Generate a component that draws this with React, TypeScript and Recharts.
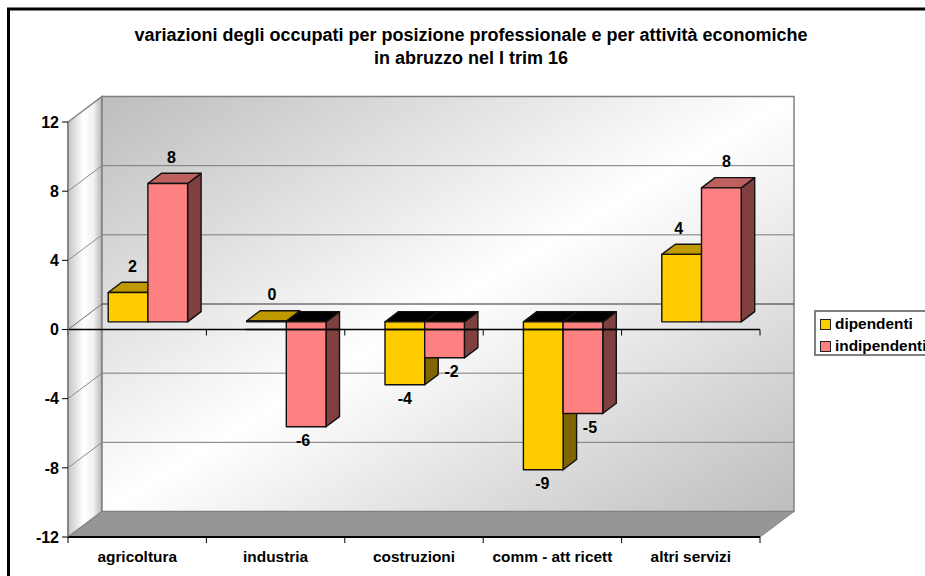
import React from 'react';
import { BarChart, Bar, XAxis, YAxis, Legend, LabelList, ReferenceLine } from 'recharts';

const categories = ['agricoltura', 'industria', 'costruzioni', 'comm - att ricett', 'altri servizi'];
const dipendenti = [1.7, 0.05, -3.64, -8.55, 3.9];
const indipendenti = [8.0, -6.07, -2.08, -5.3, 7.75];
const yTicks = [-12, -8, -4, 0, 4, 8, 12];
const titleLines = ['variazioni degli occupati per posizione professionale e per attività economiche', 'in abruzzo nel I trim 16'];
const seriesNames = ['dipendenti', 'indipendenti'];
const dipLabelNudge = [4.5, 5.5, 0, -1, -3];
const indLabelNudge = [3.7, -3, 7, 7, 5];

const data = categories.map((name, i) => ({ name, dipendenti: dipendenti[i], indipendenti: indipendenti[i] }));

const FONT = '"Liberation Sans", Arial, sans-serif';
const W = 925, H = 576;
const PL = 68, PR = 760, PT = 122, PB = 537;
const DX = 34, DY = 25.5;
const BAR_SHIFT_X = 10.2, BAR_SHIFT_Y = 7.65, BAR_DEPTH_X = 13.5, BAR_DEPTH_Y = 10.2;
const BAR_W = 39.7;
const LEGEND_W = 120;
const yOf = (v: number) => PT + ((12 - v) / 24) * (PB - PT);
const bandW = (PR - PL) / categories.length;

const Bar3D = (colors: { front: string; top: string; side: string }, axisOverBars = false) => (props: any) => {
  const { x, y, width, height } = props;
  const left = x + BAR_SHIFT_X;
  const right = left + width;
  const rawTop = Math.min(y, y + height);
  const top = rawTop - BAR_SHIFT_Y;
  const bottom = Math.max(y, y + height) - BAR_SHIFT_Y;
  const value = props.value;
  const v = Array.isArray(value) ? value[1] : value;
  const topColor = v < 0 ? '#000000' : colors.top;
  const dx = BAR_DEPTH_X, dy = BAR_DEPTH_Y;
  const common = { stroke: '#111', strokeWidth: 1.4, strokeLinejoin: 'round' as const };
  return (
    <g>
      <polygon points={`${right},${top} ${right + dx},${top - dy} ${right + dx},${bottom - dy} ${right},${bottom}`} fill={colors.side} {...common} />
      <polygon points={`${left},${top} ${left + dx},${top - dy} ${right + dx},${top - dy} ${right},${top}`} fill={topColor} {...common} />
      <rect x={left} y={top} width={width} height={bottom - top} fill={colors.front} {...common} />
      {axisOverBars && v < 0 && (
        <line x1={left - width - 1} y1={rawTop} x2={right + dx + 1} y2={rawTop} stroke="#000" strokeWidth={1.5} />
      )}
    </g>
  );
};

const makeLabel = (nudges: number[]) => (props: any) => {
  const { x, y, width, height, value, index } = props;
  const v = Number(value);
  const top = Math.min(y, y + height) - BAR_SHIFT_Y;
  const bottom = Math.max(y, y + height) - BAR_SHIFT_Y;
  const cx = x + BAR_SHIFT_X + width / 2 + nudges[index];
  const cy = v < 0 ? bottom + 14 : top - 26;
  return (
    <text x={cx} y={cy} textAnchor="middle" dominantBaseline="central" fontFamily={FONT} fontWeight="bold" fontSize={16} fill="#000">
      {Math.round(v)}
    </text>
  );
};

const Walls = () => (
  <g>
    <defs>
      <linearGradient id="backWall" x1="0" y1="0" x2="1" y2="1">
        <stop offset="0" stopColor="#bdbdbd" />
        <stop offset="0.5" stopColor="#ffffff" />
        <stop offset="1" stopColor="#bdbdbd" />
      </linearGradient>
      <linearGradient id="sideWall" x1="0" y1="0" x2="1" y2="0">
        <stop offset="0" stopColor="#c4c4c4" />
        <stop offset="0.45" stopColor="#ffffff" />
        <stop offset="0.75" stopColor="#f2f2f2" />
        <stop offset="1" stopColor="#b4b4b4" />
      </linearGradient>
    </defs>
    <polygon points={`${PL},${PT} ${PL + DX},${PT - DY} ${PL + DX},${PB - DY} ${PL},${PB}`} fill="url(#sideWall)" stroke="#808080" strokeWidth={1.5} />
    <rect x={PL + DX} y={PT - DY} width={PR - PL} height={PB - PT} fill="url(#backWall)" stroke="#808080" strokeWidth={1.5} />
    <polygon points={`${PL},${PB} ${PL + DX},${PB - DY} ${PR + DX},${PB - DY} ${PR},${PB}`} fill="#969696" stroke="#808080" strokeWidth={1} />
    {yTicks.filter((t) => t > -12 && t < 12).map((t) => (
      <g key={t}>
        <line x1={PL} y1={yOf(t)} x2={PL + DX} y2={yOf(t) - DY} stroke={t === 0 ? '#707070' : '#8a8a8a'} strokeWidth={1} />
        <line x1={PL + DX} y1={yOf(t) - DY} x2={PR + DX} y2={yOf(t) - DY} stroke={t === 0 ? '#303030' : '#7a7a7a'} strokeWidth={1} />
      </g>
    ))}
  </g>
);

const Frame = () => (
  <g>
    <path d={`M8.5,${H + 5} V9 H${W + 5}`} fill="none" stroke="#000" strokeWidth={3} />
    <text textAnchor="middle" fontFamily={FONT} fontWeight="bold" fontSize={18} fill="#000">
      <tspan x={471} y={41}>{titleLines[0]}</tspan>
      <tspan x={471} y={64}>{titleLines[1]}</tspan>
    </text>
  </g>
);

const Overlay = () => (
  <g>
    {categories.map((_, i) => i).concat(categories.length).map((i) => (
      <g key={i}>
        <line x1={PL + i * bandW} y1={yOf(0)} x2={PL + i * bandW} y2={yOf(0) + 6} stroke="#000" strokeWidth={1} />
        <line x1={PL + i * bandW} y1={PB} x2={PL + i * bandW} y2={PB + 6} stroke="#000" strokeWidth={1} />
      </g>
    ))}
  </g>
);

const LegendBox = () => (
  <div style={{ width: LEGEND_W - 4, height: 42, border: '2px solid #808080', background: '#fff', boxSizing: 'content-box', fontFamily: FONT, fontWeight: 'bold', fontSize: 15.4, color: '#000', position: 'relative' }}>
    {seriesNames.map((n, i) => (
      <div key={n} style={{ position: 'absolute', left: 4, top: 2 + i * 22, height: 20, lineHeight: '20px', whiteSpace: 'nowrap' }}>
        <span style={{ display: 'inline-block', width: 9, height: 9, border: '1.5px solid #222', background: i === 0 ? '#FFCC00' : '#FF8080', marginRight: 4, verticalAlign: '-1px' }} />
        {n}
      </div>
    ))}
  </div>
);

export default function App() {
  return (
    <div style={{ position: 'absolute', left: 0, top: 0, width: W, height: H, overflow: 'hidden', background: '#fff' }}>
      <BarChart
        width={W}
        height={H}
        data={data}
        margin={{ left: 0, right: W - PR - LEGEND_W, top: PT, bottom: 0 }}
        barGap={0}
        barSize={BAR_W}
      >
        <Walls />
        <Frame />
        <XAxis
          dataKey="name"
          interval={0}
          axisLine={{ stroke: '#000', strokeWidth: 2 }}
          tickLine={false}
          height={H - PB}
          tickMargin={8}
          tick={{ fontFamily: FONT, fontWeight: 'bold', fontSize: 15.4, fill: '#000' }}
        />
        <YAxis
          type="number"
          domain={[-12, 12]}
          ticks={yTicks}
          interval={0}
          width={PL}
          axisLine={{ stroke: '#808080', strokeWidth: 1.5 }}
          tickLine={{ stroke: '#000' }}
          tickSize={6}
          tickMargin={3}
          tick={{ fontFamily: FONT, fontWeight: 'bold', fontSize: 16, fill: '#000' }}
        />
        <Legend
          layout="vertical"
          align="right"
          verticalAlign="top"
          wrapperStyle={{ position: 'absolute', left: 814, top: 310, width: LEGEND_W }}
          content={<LegendBox />}
        />
        <ReferenceLine y={0} stroke="#000" strokeWidth={1.5} ifOverflow="visible" />
        <Bar dataKey="dipendenti" isAnimationActive={false} shape={Bar3D({ front: '#FFCC00', top: '#BF9900', side: '#806600' })}>
          <LabelList dataKey="dipendenti" content={makeLabel(dipLabelNudge)} />
        </Bar>
        <Bar dataKey="indipendenti" isAnimationActive={false} shape={Bar3D({ front: '#FF8080', top: '#BF6060', side: '#804040' }, true)}>
          <LabelList dataKey="indipendenti" content={makeLabel(indLabelNudge)} />
        </Bar>
        <Overlay />
      </BarChart>
    </div>
  );
}
